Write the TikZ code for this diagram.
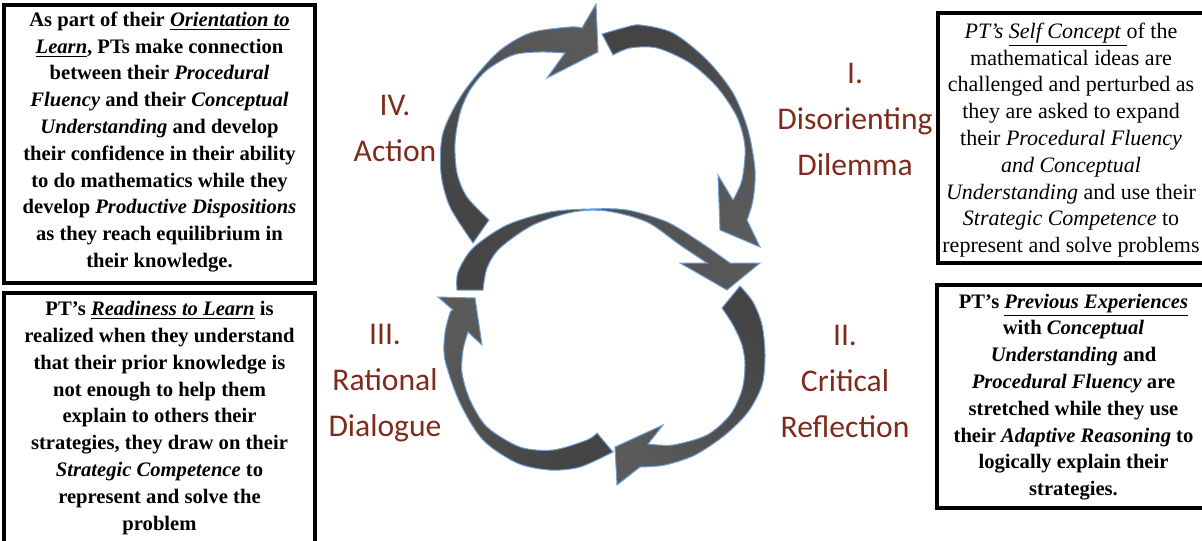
\documentclass[tikz,border=0pt]{standalone}
\usepackage{fontspec}
\setmainfont{Liberation Serif}
\newfontfamily\stagefont{Carlito}
\definecolor{stagered}{HTML}{7F2B1C}
\definecolor{arrowdark}{HTML}{444444}
\definecolor{arrowlight}{HTML}{5A5A5A}
\definecolor{arrowedge}{HTML}{6FA0D8}

\begin{document}
\begin{tikzpicture}[x=0.5pt,y=-0.5pt,
  boxline/.style={line width=1.6pt},
  infotext/.style={align=center,inner sep=0pt,
    font={\fontsize{10.3}{13.4}\selectfont\bfseries}},
  plaintext/.style={infotext,font={\fontsize{11}{13.4}\selectfont}},
  stage/.style={align=center,text=stagered,
    font={\stagefont\fontsize{15.8}{23}\selectfont}},
  cyclearrow/.style={draw=arrowedge,line width=0.5pt,top color=arrowlight,
    bottom color=arrowdark,shading angle=#1}]

\useasboundingbox (0,0) rectangle (1202,540);

\node[infotext] (orient) at (159.5,142)
  {As part of their \underline{\textit{Orientation to}}\\
   \underline{\textit{Learn}}, PTs make connection\\
   between their \textit{Procedural}\\
   \textit{Fluency} and their \textit{Conceptual}\\
   \textit{Understanding} and develop\\
   their confidence in their ability\\
   to do mathematics while they\\
   develop \textit{Productive Dispositions}\\
   as they reach equilibrium in\\
   their knowledge.};
\node[infotext] (ready) at (159.5,418)
  {PT's \underline{\textit{Readiness to Learn}} is\\
   realized when they understand\\
   that their prior knowledge is\\
   not enough to help them\\
   explain to others their\\
   strategies, they draw on their\\
   \textit{Strategic Competence} to\\
   represent and solve the\\
   problem};
\node[plaintext] (selfcon) at (1071,140)
  {\textit{PT's} \underline{\textit{Self Concept}\ }of the\\
   mathematical ideas are\\
   challenged and perturbed as\\
   they are asked to expand\\
   their \textit{Procedural Fluency}\\
   \textit{and Conceptual}\\
   \textit{Understanding} and use their\\
   \textit{Strategic Competence} to\\
   represent and solve problems};
\node[infotext] (prevexp) at (1073.5,397)
  {PT's \underline{\textit{Previous Experiences}}\\
   with \textit{Conceptual}\\
   \textit{Understanding} and\\
   \textit{Procedural Fluency} are\\
   stretched while they use\\
   their \textit{Adaptive Reasoning} to\\
   logically explain their\\
   strategies.};

\draw[boxline] (4,5) rectangle (315,283);
\draw[boxline] (4,293) rectangle (315,560);
\draw[boxline] (938,13) rectangle (1215,263);
\draw[boxline] (937,285) rectangle (1215,508);

\node[stage] (dilemma) at (855,119) {I.\\Disorienting\\Dilemma};
\node[stage] (reflect) at (845,381) {II.\\Critical\\Reflection};
\node[stage] (dialogue) at (385,383) {III.\\Rational\\Dialogue};
\node[stage] (action) at (395,128) {IV.\\Action};

% upper loop
\path[cyclearrow=-30] plot[smooth] coordinates {(473,243) (450,207) (441,173) (443,133)
    (463,93) (497,53) (530,33) (570,27) (582,28)}
  -- (596,4) -- (598,52) -- (547,78)
  -- plot[smooth] coordinates {(565,53) (540,52) (513,55) (487,70) (470,90) (460,113)
    (455,143) (457,173) (467,197) (489,220)} -- cycle;
\path[cyclearrow=-150] plot[smooth] coordinates {(602,34) (623,28) (640,25) (673,33)
    (707,60) (733,93) (748,130) (755,170) (753,200) (747,220)}
  -- (760,247) -- (720,230) -- (718,175)
  -- plot[smooth] coordinates {(733,200) (742,180) (745,147) (737,117) (717,87)
    (690,63) (657,48) (630,48) (613,55)} -- cycle;

% lower loop
\path[cyclearrow=-90] plot[smooth] coordinates {(457,290) (458,272) (473,248) (507,225)
    (550,212) (590,209) (627,210) (667,222) (700,242) (730,263)}
  -- (760,263) -- (727,290) -- (680,263)
  -- plot[smooth] coordinates {(707,263) (680,245) (647,222) (607,211) (573,212)
    (533,225) (500,248) (487,268) (483,290)} -- cycle;
\path[cyclearrow=135] plot[smooth] coordinates {(740,286) (753,302) (762,325) (765,355)
    (762,385) (748,412) (725,435) (695,455) (665,465) (640,467)}
  -- (617,485) -- (615,447) -- (663,425)
  -- plot[smooth] coordinates {(648,444) (673,445) (707,435) (730,415) (742,390)
    (745,365) (742,345) (733,325) (722,308)} -- cycle;
\path[cyclearrow=45] plot[smooth] coordinates {(613,452) (580,467) (550,470) (517,463)
    (483,440) (460,403) (445,360) (445,333) (450,313) (453,310)}
  -- (438,297) -- (475,298) -- (482,345)
  -- plot[smooth] coordinates {(468,332) (463,350) (462,373) (470,400) (487,427)
    (520,447) (553,450) (587,440) (597,433)} -- cycle;
\end{tikzpicture}
\end{document}
